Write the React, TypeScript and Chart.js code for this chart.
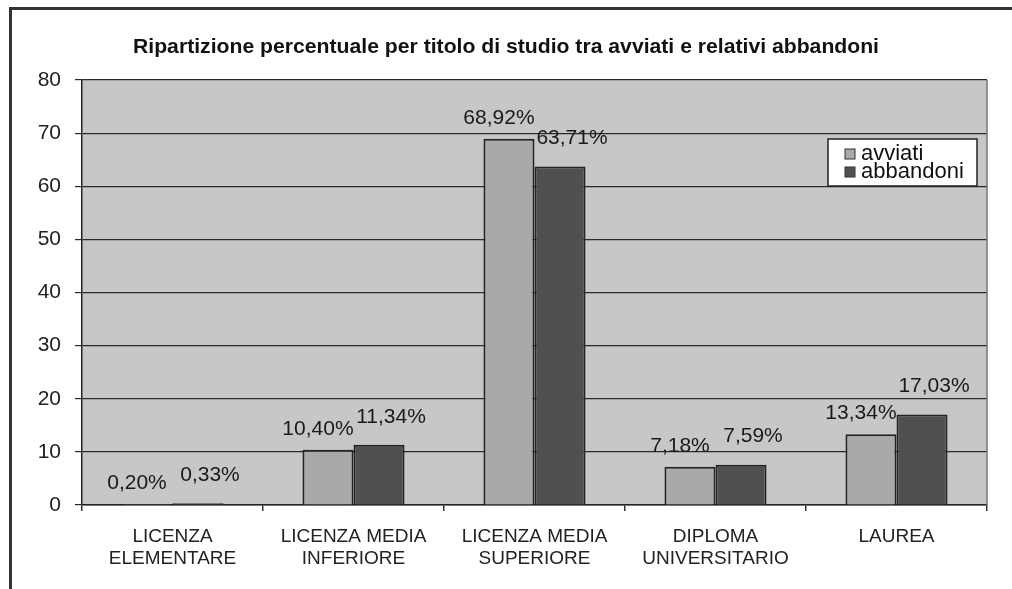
import React, { useEffect, useRef } from "react";
import { Chart, registerables } from "chart.js";

Chart.register(...registerables);

const TITLE = "Ripartizione percentuale per titolo di studio tra avviati e relativi abbandoni";
const CATEGORIES: string[][] = [
  ["LICENZA", "ELEMENTARE"],
  ["LICENZA MEDIA", "INFERIORE"],
  ["LICENZA MEDIA", "SUPERIORE"],
  ["DIPLOMA", "UNIVERSITARIO"],
  ["LAUREA"],
];
const SERIES_NAMES = ["avviati", "abbandoni"];
const AVVIATI = [0.2, 10.4, 68.92, 7.18, 13.34];
const ABBANDONI = [0.33, 11.34, 63.71, 7.59, 17.03];
const Y_MIN = 0;
const Y_MAX = 80;
const Y_STEP = 10;

const COLORS = ["#a9a9a9", "#505050"];
const PLOT_BG = "#c7c7c7";
const FONT = "'Liberation Sans', Arial, sans-serif";

const fmt = (v: number) => v.toFixed(2).replace(".", ",") + "%";

export default function App() {
  const ref = useRef<HTMLCanvasElement>(null);

  useEffect(() => {
    if (!ref.current) return;
    const W = 1012;
    const H = 589;
    const plotLeft = 82;
    const plotRight = 987;
    const plotTop = 80;
    const plotBottom = 505;

    const decor = {
      id: "decor",
      beforeDraw(chart: any) {
        const { ctx, chartArea: a } = chart;
        ctx.save();
        ctx.fillStyle = PLOT_BG;
        ctx.fillRect(a.left, a.top, a.right - a.left, a.bottom - a.top);
        ctx.restore();
      },
      afterDraw(chart: any) {
        const { ctx, chartArea: a } = chart;
        ctx.save();
        ctx.strokeStyle = "#777";
        ctx.lineWidth = 1.5;
        ctx.beginPath();
        ctx.moveTo(a.right, a.top);
        ctx.lineTo(a.right, a.bottom);
        ctx.stroke();

        // title
        ctx.fillStyle = "#111";
        ctx.font = `bold 21px ${FONT}`;
        ctx.textBaseline = "middle";
        ctx.textAlign = "center";
        const tw = ctx.measureText(TITLE).width;
        const target = 746;
        ctx.save();
        ctx.translate(506, 47);
        ctx.scale(target / tw, 1);
        ctx.fillText(TITLE, 0, 0);
        ctx.restore();

        // data labels
        ctx.font = `21px ${FONT}`;
        ctx.fillStyle = "#1a1a1a";
        const offY = [21, 28];
        const offX = [-10, 12];
        chart.data.datasets.forEach((ds: any, di: number) => {
          const meta = chart.getDatasetMeta(di);
          meta.data.forEach((bar: any, i: number) => {
            ctx.fillText(fmt(ds.data[i]), bar.x + offX[di], bar.y - offY[di]);
          });
        });

        // legend
        const lx = 828, ly = 139, lw = 149, lh = 47;
        ctx.fillStyle = "#fff";
        ctx.fillRect(lx, ly, lw, lh);
        ctx.strokeStyle = "#222";
        ctx.lineWidth = 1.5;
        ctx.strokeRect(lx, ly, lw, lh);
        ctx.font = `22px ${FONT}`;
        ctx.textAlign = "left";
        SERIES_NAMES.forEach((name, i) => {
          const cy = ly + 15 + i * 18;
          ctx.fillStyle = COLORS[i];
          ctx.fillRect(lx + 17, cy - 5, 10, 10);
          ctx.strokeStyle = "#333";
          ctx.lineWidth = 1;
          ctx.strokeRect(lx + 17, cy - 5, 10, 10);
          ctx.fillStyle = "#111";
          ctx.fillText(name, lx + 33, cy);
        });
        ctx.restore();
      },
    };

    const chart = new Chart(ref.current, {
      type: "bar",
      data: {
        labels: CATEGORIES,
        datasets: [
          {
            label: SERIES_NAMES[0],
            data: AVVIATI,
            backgroundColor: COLORS[0],
            borderColor: "#222",
            borderWidth: 2,
          },
          {
            label: SERIES_NAMES[1],
            data: ABBANDONI,
            backgroundColor: COLORS[1],
            borderColor: "#222",
            borderWidth: 2,
          },
        ],
      },
      options: {
        responsive: false,
        animation: false,
        layout: { padding: { left: 0, right: W - plotRight, top: plotTop, bottom: 0 } },
        plugins: {
          legend: { display: false },
          title: { display: false },
          tooltip: { enabled: false },
        },
        datasets: { bar: { categoryPercentage: 0.564, barPercentage: 1 } },
        scales: {
          x: {
            grid: {
              offset: true,
              drawOnChartArea: false,
              drawTicks: true,
              tickLength: 6,
              color: "#333",
              lineWidth: 1.5,
            },
            border: { display: true, color: "#222", width: 1.5 },
            ticks: {
              color: "#222",
              font: { family: FONT, size: 19, lineHeight: 1.15 },
              padding: 15,
              maxRotation: 0,
              autoSkip: false,
            },
            afterFit(scale: any) {
              scale.height = H - plotBottom;
            },
          },
          y: {
            min: Y_MIN,
            max: Y_MAX,
            ticks: {
              stepSize: Y_STEP,
              color: "#222",
              font: { family: FONT, size: 21 },
              padding: 14,
            },
            grid: {
              color: "#2a2a2a",
              lineWidth: 1.2,
              drawTicks: true,
              tickLength: 7,
            },
            border: { display: true, color: "#222", width: 1.5 },
            afterFit(scale: any) {
              scale.width = plotLeft;
            },
          },
        },
      },
      plugins: [decor],
    } as any);
    return () => chart.destroy();
  }, []);

  return (
    <div style={{ position: "fixed", left: 0, top: 0, width: 1012, height: 589, background: "#fff" }}>
      <div
        style={{
          position: "absolute",
          left: 9,
          top: 7,
          width: 1012,
          height: 600,
          borderLeft: "3px solid #333",
          borderTop: "3px solid #333",
        }}
      />
      <canvas ref={ref} width={1012} height={589} style={{ position: "absolute", left: 0, top: 0 }} />
    </div>
  );
}
